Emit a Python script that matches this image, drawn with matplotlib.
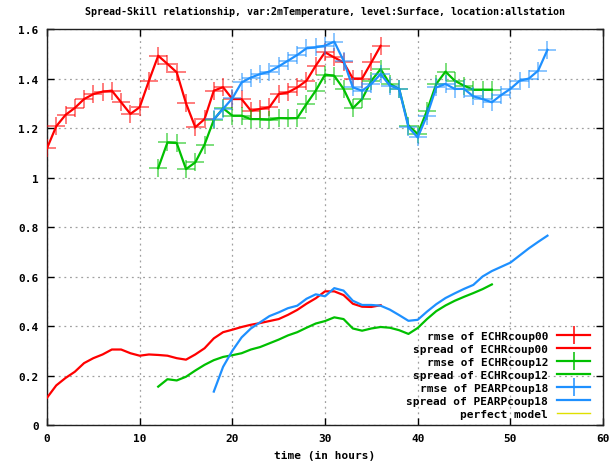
import matplotlib
matplotlib.use("Agg")
import matplotlib.pyplot as plt
from matplotlib.lines import Line2D

# hourly lead times for each ensemble run
hours_00 = list(range(0, 37))
hours_12 = list(range(12, 49))
hours_18 = list(range(18, 55))

rmse_00 = [1.118, 1.207, 1.253, 1.281, 1.317, 1.337, 1.347, 1.351, 1.304, 1.257,
           1.284, 1.391, 1.492, 1.459, 1.425, 1.300, 1.203, 1.236, 1.351, 1.365,
           1.317, 1.317, 1.270, 1.277, 1.284, 1.337, 1.344, 1.364, 1.391, 1.452,
           1.506, 1.485, 1.465, 1.400, 1.400, 1.465, 1.532]
spread_00 = [0.110, 0.160, 0.190, 0.215, 0.250, 0.270, 0.285, 0.305, 0.305, 0.290,
             0.280, 0.285, 0.283, 0.280, 0.270, 0.264, 0.285, 0.310, 0.350, 0.375,
             0.385, 0.396, 0.405, 0.412, 0.420, 0.428, 0.445, 0.465, 0.490, 0.512,
             0.540, 0.540, 0.525, 0.490, 0.478, 0.477, 0.484]

rmse_12 = [1.038, 1.142, 1.139, 1.034, 1.061, 1.133, 1.233, 1.280, 1.250, 1.250,
           1.236, 1.236, 1.234, 1.240, 1.239, 1.240, 1.297, 1.351, 1.416, 1.411,
           1.358, 1.280, 1.317, 1.391, 1.438, 1.378, 1.358, 1.210, 1.176, 1.270,
           1.378, 1.428, 1.391, 1.371, 1.355, 1.355, 1.355]
spread_12 = [0.155, 0.185, 0.180, 0.195, 0.220, 0.243, 0.262, 0.275, 0.282, 0.290,
             0.305, 0.315, 0.330, 0.345, 0.362, 0.375, 0.393, 0.410, 0.420, 0.435,
             0.428, 0.390, 0.381, 0.390, 0.396, 0.393, 0.383, 0.368, 0.392, 0.428,
             0.460, 0.483, 0.502, 0.518, 0.533, 0.549, 0.568]

rmse_18 = [1.236, 1.277, 1.320, 1.384, 1.404, 1.418, 1.428, 1.449, 1.472, 1.495,
           1.522, 1.526, 1.533, 1.549, 1.472, 1.364, 1.351, 1.378, 1.418, 1.371,
           1.358, 1.203, 1.162, 1.250, 1.364, 1.378, 1.358, 1.358, 1.328, 1.317,
           1.304, 1.333, 1.358, 1.391, 1.400, 1.432, 1.516]
spread_18 = [0.135, 0.235, 0.300, 0.354, 0.390, 0.415, 0.440, 0.455, 0.472, 0.482,
             0.510, 0.528, 0.520, 0.553, 0.543, 0.502, 0.485, 0.485, 0.482, 0.466,
             0.444, 0.421, 0.425, 0.458, 0.488, 0.513, 0.532, 0.550, 0.566, 0.600,
             0.622, 0.639, 0.656, 0.685, 0.714, 0.740, 0.765]

runs = [
    ("ECHRcoup00", "#ff0000", hours_00, rmse_00, spread_00),
    ("ECHRcoup12", "#00c000", hours_12, rmse_12, spread_12),
    ("PEARPcoup18", "#1e90ff", hours_18, rmse_18, spread_18),
]

x_ticks = [0, 10, 20, 30, 40, 50, 60]
y_ticks = [0, 0.2, 0.4, 0.6, 0.8, 1.0, 1.2, 1.4, 1.6]
y_tick_labels = ["0", "0.2", "0.4", "0.6", "0.8", "1", "1.2", "1.4", "1.6"]

mono = "DejaVu Sans Mono"

fig = plt.figure(figsize=(6.11, 4.64), dpi=100)
ax = fig.add_axes([0.0769, 0.0819, 0.9101, 0.8534])

handles = []
labels = []
for name, color, hours, rmse, spread in runs:
    ax.plot(hours, rmse, color=color, lw=1.6, zorder=3)
    ax.plot(hours, rmse, ls="none", marker="+", ms=13, mew=1.1,
            color=color, alpha=0.65, zorder=3)
    ax.plot(hours, spread, color=color, lw=1.6, zorder=3)
    handles.append(Line2D([], [], color=color, lw=1.6, marker="+", ms=13, mew=1.1))
    labels.append("rmse of " + name)
    handles.append(Line2D([], [], color=color, lw=1.6))
    labels.append("spread of " + name)

handles.append(Line2D([], [], color="#e0e000", lw=1))
labels.append("perfect model")

ax.set_xlim(0, 60)
ax.set_ylim(0, 1.6)
ax.set_xticks(x_ticks)
ax.set_yticks(y_ticks)
ax.set_yticklabels(y_tick_labels)
ax.tick_params(direction="in", top=True, right=True, length=5, width=1,
               labelsize=8, pad=6)
for lab in ax.get_xticklabels() + ax.get_yticklabels():
    lab.set_family(mono)
    lab.set_fontweight("bold")

ax.grid(True, color="#a0a0a0", ls=(0, (1.5, 3)), lw=0.9)
for spine in ax.spines.values():
    spine.set_color("#202020")
    spine.set_linewidth(1)

ax.set_title("Spread-Skill relationship, var:2mTemperature, level:Surface, location:allstation",
             family=mono, fontweight="bold", fontsize=7.2, pad=11)
ax.set_xlabel("time (in hours)", family=mono, fontweight="bold", fontsize=8, labelpad=5)

leg = ax.legend(handles, labels, loc="lower right", bbox_to_anchor=(0.985, 0.005),
                markerfirst=False, frameon=False, handlelength=3.0,
                labelspacing=0.27, handletextpad=0.8, borderaxespad=0,
                prop={"family": mono, "weight": "bold", "size": 8})

fig.savefig("out.png", dpi=100)
